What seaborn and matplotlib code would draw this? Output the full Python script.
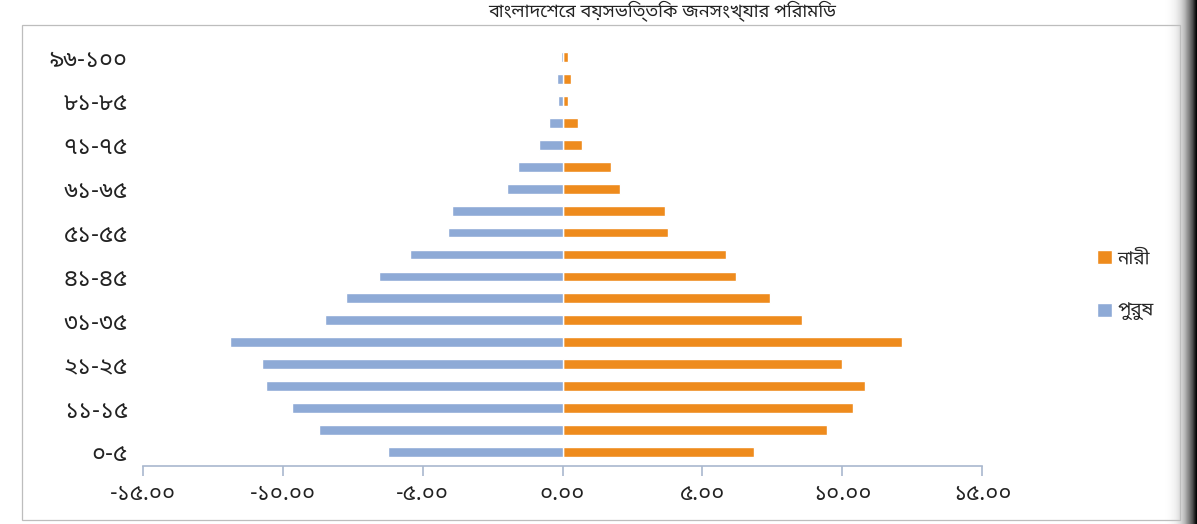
import numpy as np
import pandas as pd
import matplotlib
matplotlib.use("Agg")
import matplotlib.pyplot as plt
import seaborn as sns
from matplotlib import font_manager
from matplotlib.patches import Rectangle

# Age groups, bottom to top
groups = ["০-৫", "৬-১০", "১১-১৫", "১৬-২০", "২১-২৫", "২৬-৩০", "৩১-৩৫", "৩৬-৪০",
          "৪১-৪৫", "৪৬-৫০", "৫১-৫৫", "৫৬-৬০", "৬১-৬৫", "৬৬-৭০", "৭১-৭৫", "৭৬-৮০",
          "৮১-৮৫", "৮৬-৯৫", "৯৬-১০০"]
# Percentage of population per group
male = [6.25, 8.71, 9.68, 10.59, 10.73, 11.88, 8.48, 7.73, 6.56, 5.47,
        4.10, 3.95, 2.00, 1.59, 0.84, 0.49, 0.16, 0.18, 0.05]
female = [6.84, 9.46, 10.37, 10.81, 9.99, 12.14, 8.56, 7.43, 6.21, 5.83,
          3.78, 3.68, 2.07, 1.75, 0.68, 0.54, 0.18, 0.32, 0.18]
female_label = "নারী"
male_label = "পুরুষ"
x_ticks = [-15, -10, -5, 0, 5, 10, 15]
title = "বাংলাদেশের বয়সভিত্তিক জনসংখ্যার পিরামিড"

BN_DIGITS = str.maketrans("0123456789", "০১২৩৪৫৬৭৮৯")


def bn_number(v):
    return f"{v:.2f}".translate(BN_DIGITS)


def find_bengali_font():
    """Pick an installed proportional font that covers Bengali script."""
    try:
        from fontTools.ttLib import TTFont
    except Exception:
        return None
    found = []
    seen = set()
    for f in font_manager.fontManager.ttflist:
        if f.fname in seen:
            continue
        seen.add(f.fname)
        try:
            tt = TTFont(f.fname, fontNumber=0, lazy=True)
            cmap = tt.getBestCmap()
            if not (cmap and 0x0995 in cmap and 0x09E6 in cmap):
                continue
            post = tt["post"] if "post" in tt else None
            mono = bool(post is not None and post.isFixedPitch)
            found.append((f.name, mono))
        except Exception:
            pass
    if not found:
        return None

    def rank(item):
        name, mono = item
        low = name.lower()
        score = 0
        if mono or "mono" in low:
            score += 100
        if "bengali" in low or "bangla" in low:
            score -= 10
        if "sans" in low:
            score -= 5
        if "serif" in low:
            score += 3
        return score

    found.sort(key=rank)
    return found[0][0]


sns.set_theme(style="white")
bn_font = find_bengali_font()
families = ([bn_font] if bn_font else []) + ["DejaVu Sans"]
plt.rcParams["font.family"] = families

df = pd.DataFrame({
    "group": groups * 2,
    "value": [-m for m in male] + female,
    "sex": [male_label] * len(groups) + [female_label] * len(groups),
})

fig = plt.figure(figsize=(11.97, 5.24), dpi=100)
ax = fig.add_axes([143 / 1197, 1 - 466 / 524, (982 - 143) / 1197, (466 - 43) / 524])

sns.barplot(data=df, x="value", y="group", hue="sex",
            order=groups[::-1], hue_order=[female_label, male_label],
            palette={female_label: "#EE8B1D", male_label: "#8EAAD6"},
            dodge=False, width=0.45, orient="h", saturation=1, ax=ax)

n = len(groups)
ax.set_ylim(n - 1 + 0.64, -0.64)
ax.set_xlim(-15, 15)
ax.set_xlabel("")
ax.set_ylabel("")

ax.set_xticks(x_ticks)
ax.set_xticklabels([bn_number(v) for v in x_ticks], fontsize=16, color="#222222")

labelled = groups[0::2]
ax.set_yticks([n - 1 - groups.index(g) for g in labelled])
ax.set_yticklabels(labelled, fontsize=17, color="#222222")

for side in ("left", "top", "right"):
    ax.spines[side].set_visible(False)
ax.spines["bottom"].set_color("#A9B8CE")
ax.spines["bottom"].set_linewidth(1.2)
ax.tick_params(axis="x", direction="out", length=7, width=1.2, color="#A9B8CE", pad=6, bottom=True)
ax.tick_params(axis="y", length=0, pad=11)

handles, labels = ax.get_legend_handles_labels()
if ax.legend_ is not None:
    ax.legend_.remove()
fig.legend(handles, labels, loc="center left",
           bbox_to_anchor=(1097 / 1197, 1 - 285 / 524),
           frameon=False, handlelength=0.8, handleheight=0.8, handletextpad=0.3,
           labelspacing=1.8, fontsize=13.5, borderpad=0, borderaxespad=0)

# Chart-area border
fig.patches.append(Rectangle((0.018, 0.008), 0.968, 0.944, transform=fig.transFigure,
                             fill=False, edgecolor="#BDBDBD", linewidth=0.9))

# Title along the top edge
fig.text(0.553, 0.999, title, ha="center", va="top", fontsize=13, color="#222222")

# Dark page-binding shadow along the right edge
shade = fig.add_axes([1162 / 1197, 0, 35 / 1197, 1])
grad = np.linspace(0, 1, 64) ** 2.2
shade.imshow(grad[np.newaxis, :], aspect="auto", cmap="Greys", vmin=0, vmax=1.0,
             extent=(0, 1, 0, 1))
shade.set_axis_off()

fig.savefig("out.png", dpi=100)
